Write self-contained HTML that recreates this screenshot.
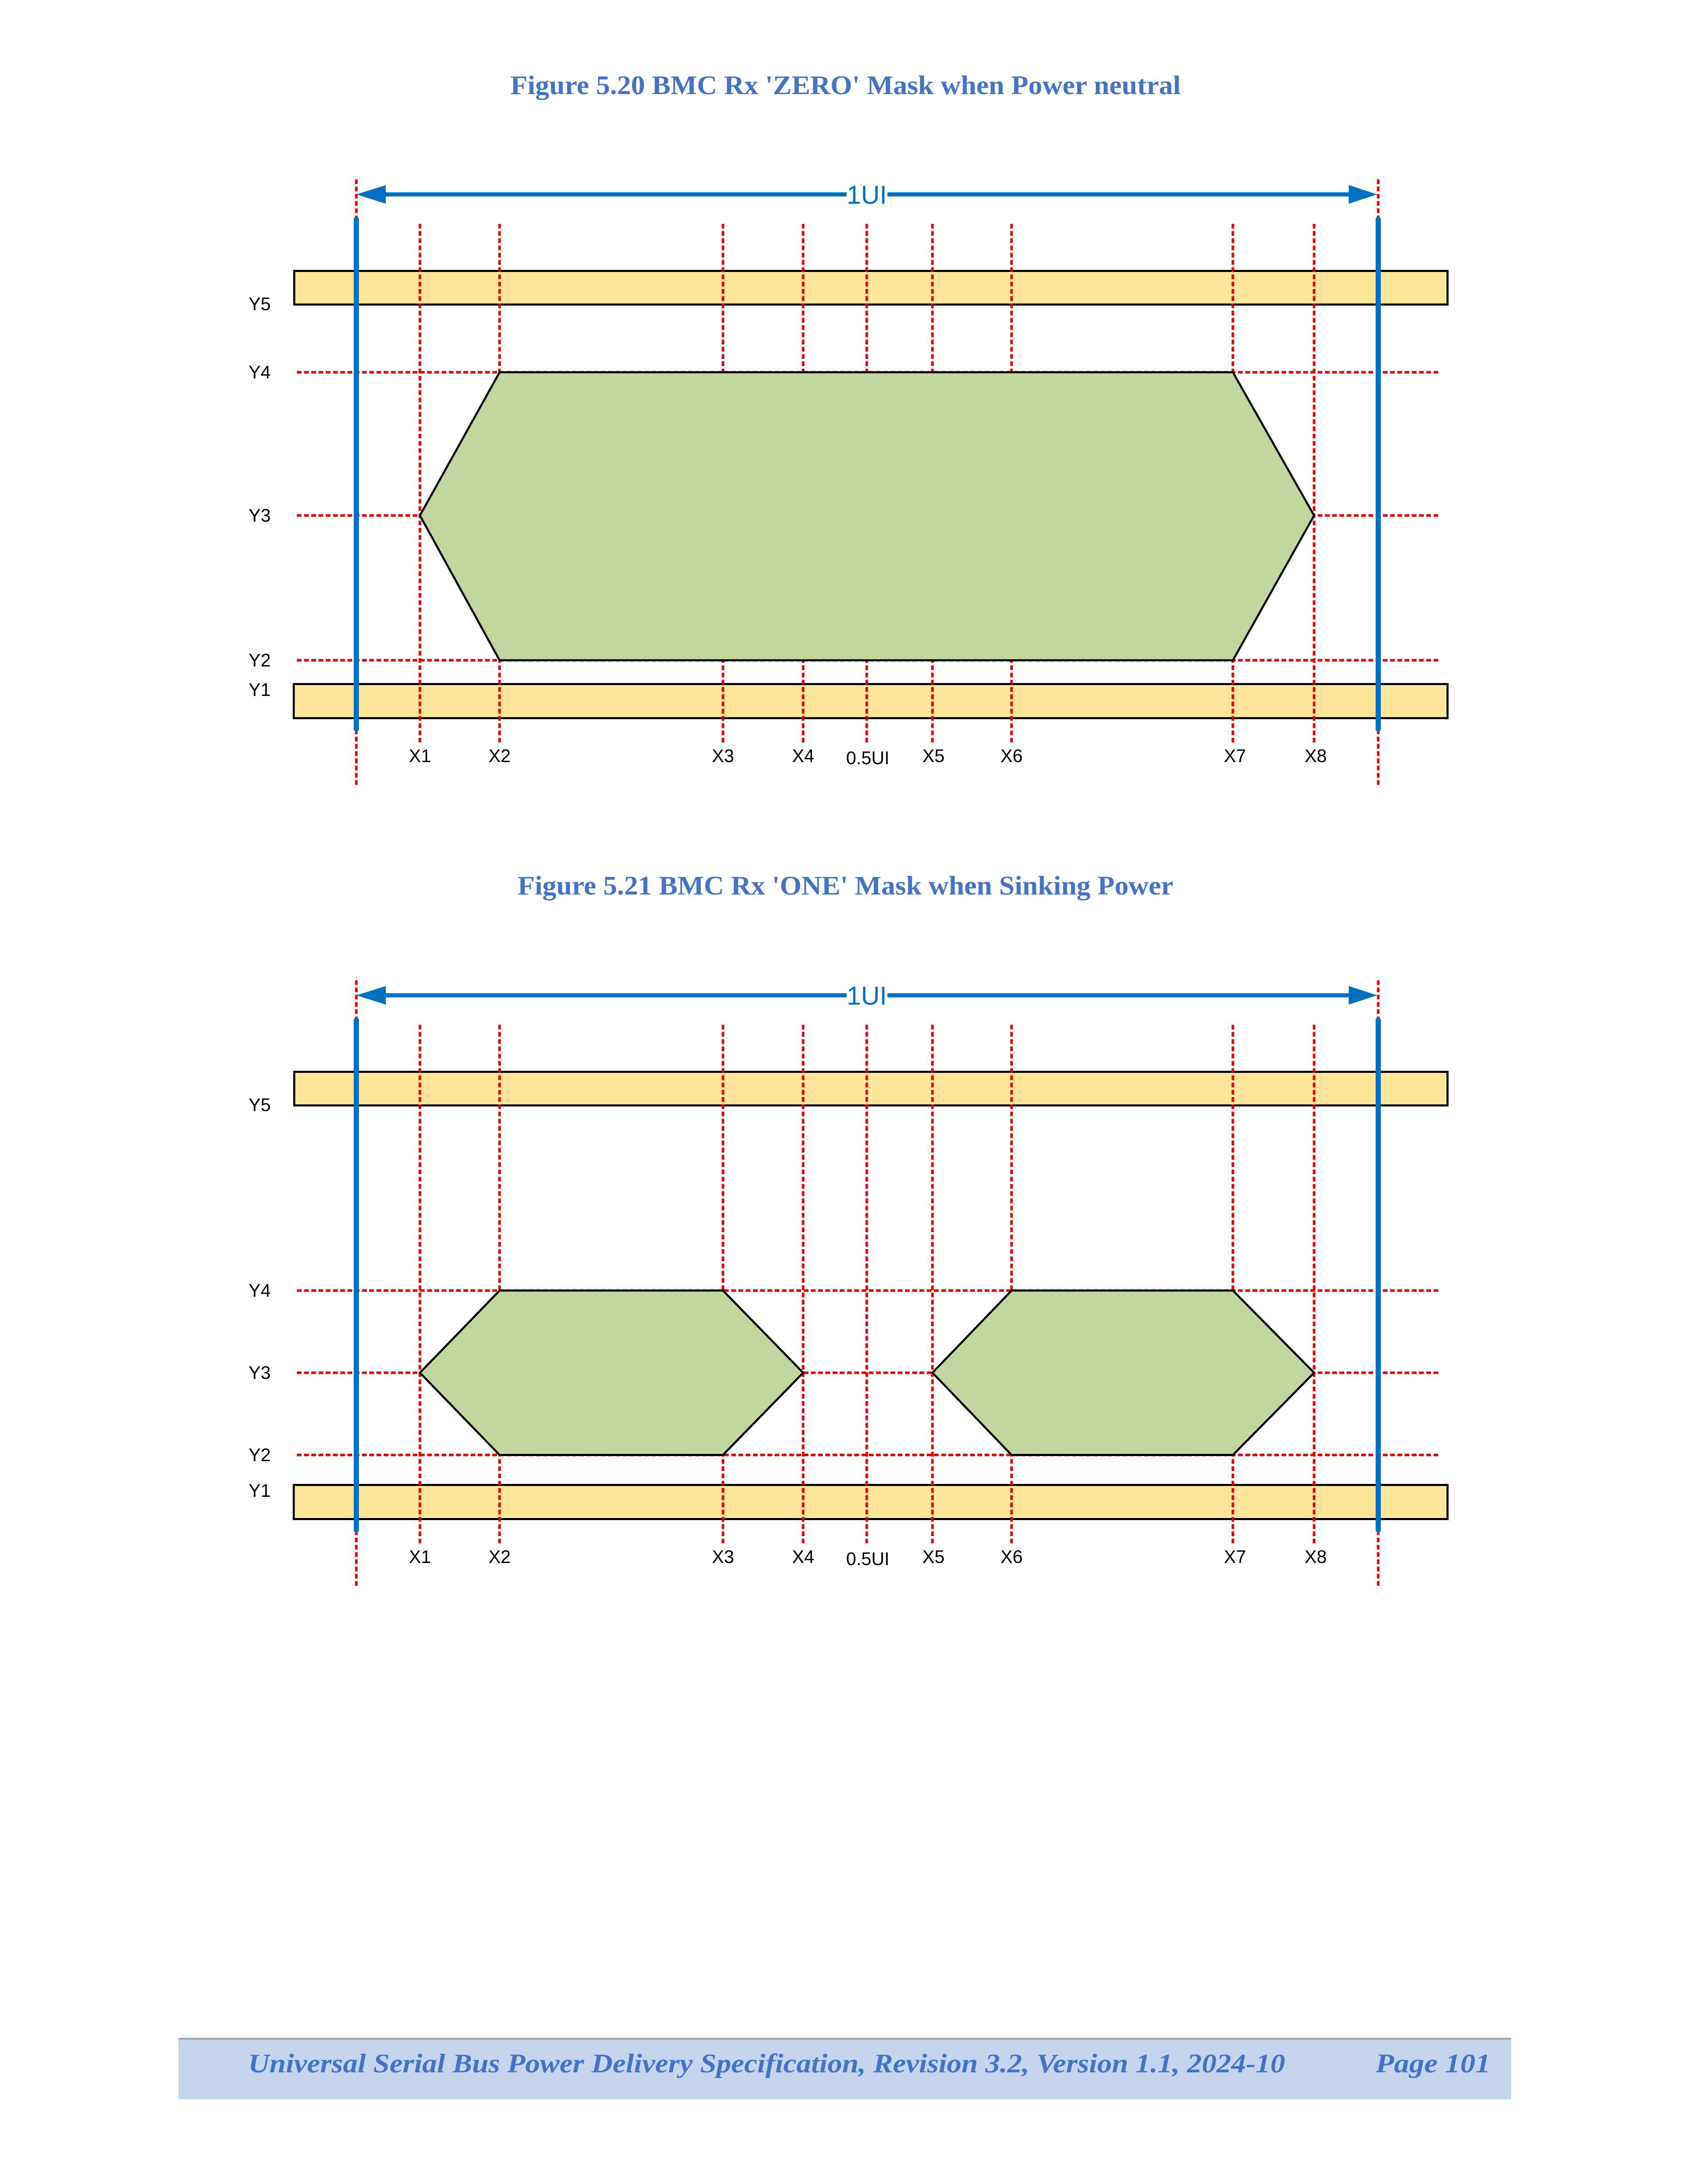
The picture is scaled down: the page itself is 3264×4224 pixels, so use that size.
<!DOCTYPE html>
<html><head><meta charset="utf-8"><style>
html,body{margin:0;padding:0;background:#fff}
svg{display:block}
</style></head><body>
<svg width="3264" height="4224" viewBox="0 0 3264 4224" xmlns="http://www.w3.org/2000/svg">
<defs>
<g id="fig">
  <rect x="569" y="524" width="2230" height="65" fill="#ffe599" stroke="#000" stroke-width="4"/>
  <rect x="568" y="1323" width="2231" height="66" fill="#ffe599" stroke="#000" stroke-width="4"/>
</g>
</defs>

<g font-family="Liberation Serif, serif" font-weight="bold" fill="#4472c4" font-size="52" text-anchor="start">
<text x="987" y="182" textLength="1296" lengthAdjust="spacingAndGlyphs">Figure 5.20 BMC Rx 'ZERO' Mask when Power neutral</text>
<text x="1001" y="1730" textLength="1268" lengthAdjust="spacingAndGlyphs">Figure 5.21 BMC Rx 'ONE' Mask when Sinking Power</text>
</g>

<!-- FIGURE 1 -->
<g>
  <use href="#fig"/>
  <g stroke="#e00000" stroke-width="5" stroke-dasharray="9,5" fill="none">
    <line x1="574" y1="720" x2="2782" y2="720"/>
    <line x1="574" y1="997" x2="2782" y2="997"/>
    <line x1="574" y1="1277" x2="2782" y2="1277"/>
    <line x1="689" y1="347" x2="689" y2="1520"/>
    <line x1="2665" y1="347" x2="2665" y2="1520"/>
    <line x1="812" y1="433" x2="812" y2="1440"/>
    <line x1="966" y1="433" x2="966" y2="1440"/>
    <line x1="1398" y1="433" x2="1398" y2="1440"/>
    <line x1="1553" y1="433" x2="1553" y2="1440"/>
    <line x1="1676" y1="433" x2="1676" y2="1440"/>
    <line x1="1803" y1="433" x2="1803" y2="1440"/>
    <line x1="1956" y1="433" x2="1956" y2="1440"/>
    <line x1="2384" y1="433" x2="2384" y2="1440"/>
    <line x1="2541" y1="433" x2="2541" y2="1440"/>
  </g>
  <polygon points="812,997 966,720 2384,720 2541,997 2384,1277 966,1277" fill="#c4d6a0" stroke="#000" stroke-width="4"/>
  <g stroke="#0070c0" stroke-width="10" stroke-linecap="round">
    <line x1="689" y1="424" x2="689" y2="1410"/>
    <line x1="2665" y1="424" x2="2665" y2="1410"/>
  </g>
  <g stroke="#0070c0" stroke-width="8">
    <line x1="740" y1="376" x2="1637" y2="376"/>
    <line x1="1716" y1="376" x2="2612" y2="376"/>
  </g>
  <polygon points="689,376 746,358 746,394" fill="#0070c0"/>
  <polygon points="2663,376 2608,358 2608,394" fill="#0070c0"/>
  <text x="1676" y="394" font-family="Liberation Sans, sans-serif" font-size="50" fill="#0070c0" text-anchor="middle">1UI</text>
  <g font-family="Liberation Sans, sans-serif" font-size="35" fill="#000" text-anchor="middle">
    <text x="502" y="600">Y5</text>
    <text x="502" y="732">Y4</text>
    <text x="502" y="1009">Y3</text>
    <text x="502" y="1289">Y2</text>
    <text x="502" y="1346">Y1</text>
    <text x="812" y="1474">X1</text>
    <text x="966" y="1474">X2</text>
    <text x="1398" y="1474">X3</text>
    <text x="1553" y="1474">X4</text>
    <text x="1678" y="1478">0.5UI</text>
    <text x="1805" y="1474">X5</text>
    <text x="1956" y="1474">X6</text>
    <text x="2388" y="1474">X7</text>
    <text x="2544" y="1474">X8</text>
  </g>
</g>

<!-- FIGURE 2 -->
<g transform="translate(0,1549)">
  <use href="#fig"/>
  <g stroke="#e00000" stroke-width="5" stroke-dasharray="9,5" fill="none">
    <line x1="574" y1="947" x2="2782" y2="947"/>
    <line x1="574" y1="1106" x2="2782" y2="1106"/>
    <line x1="574" y1="1265" x2="2782" y2="1265"/>
    <line x1="689" y1="347" x2="689" y2="1520"/>
    <line x1="2665" y1="347" x2="2665" y2="1520"/>
    <line x1="812" y1="433" x2="812" y2="1440"/>
    <line x1="966" y1="433" x2="966" y2="1440"/>
    <line x1="1398" y1="433" x2="1398" y2="1440"/>
    <line x1="1553" y1="433" x2="1553" y2="1440"/>
    <line x1="1676" y1="433" x2="1676" y2="1440"/>
    <line x1="1803" y1="433" x2="1803" y2="1440"/>
    <line x1="1956" y1="433" x2="1956" y2="1440"/>
    <line x1="2384" y1="433" x2="2384" y2="1440"/>
    <line x1="2541" y1="433" x2="2541" y2="1440"/>
  </g>
  <polygon points="812,1106 966,947 1398,947 1553,1106 1398,1265 966,1265" fill="#c4d6a0" stroke="#000" stroke-width="4"/>
  <polygon points="1803,1106 1956,947 2384,947 2541,1106 2384,1265 1956,1265" fill="#c4d6a0" stroke="#000" stroke-width="4"/>
  <g stroke="#0070c0" stroke-width="10" stroke-linecap="round">
    <line x1="689" y1="424" x2="689" y2="1410"/>
    <line x1="2665" y1="424" x2="2665" y2="1410"/>
  </g>
  <g stroke="#0070c0" stroke-width="8">
    <line x1="740" y1="376" x2="1637" y2="376"/>
    <line x1="1716" y1="376" x2="2612" y2="376"/>
  </g>
  <polygon points="689,376 746,358 746,394" fill="#0070c0"/>
  <polygon points="2663,376 2608,358 2608,394" fill="#0070c0"/>
  <text x="1676" y="394" font-family="Liberation Sans, sans-serif" font-size="50" fill="#0070c0" text-anchor="middle">1UI</text>
  <g font-family="Liberation Sans, sans-serif" font-size="35" fill="#000" text-anchor="middle">
    <text x="502" y="600">Y5</text>
    <text x="502" y="959">Y4</text>
    <text x="502" y="1118">Y3</text>
    <text x="502" y="1277">Y2</text>
    <text x="502" y="1346">Y1</text>
    <text x="812" y="1474">X1</text>
    <text x="966" y="1474">X2</text>
    <text x="1398" y="1474">X3</text>
    <text x="1553" y="1474">X4</text>
    <text x="1678" y="1478">0.5UI</text>
    <text x="1805" y="1474">X5</text>
    <text x="1956" y="1474">X6</text>
    <text x="2388" y="1474">X7</text>
    <text x="2544" y="1474">X8</text>
  </g>
</g>

<!-- Footer -->
<rect x="345" y="3944" width="2577" height="116" fill="#c6d5ee"/>
<line x1="345" y1="3943" x2="2922" y2="3943" stroke="#999" stroke-width="3"/>
<g font-family="Liberation Serif, serif" font-weight="bold" font-style="italic" fill="#4472c4" font-size="52">
<text x="480" y="4008" textLength="2005" lengthAdjust="spacingAndGlyphs">Universal Serial Bus Power Delivery Specification, Revision 3.2, Version 1.1, 2024-10</text>
<text x="2660" y="4008" textLength="222" lengthAdjust="spacingAndGlyphs">Page 101</text>
</g>
</svg>
</body></html>
